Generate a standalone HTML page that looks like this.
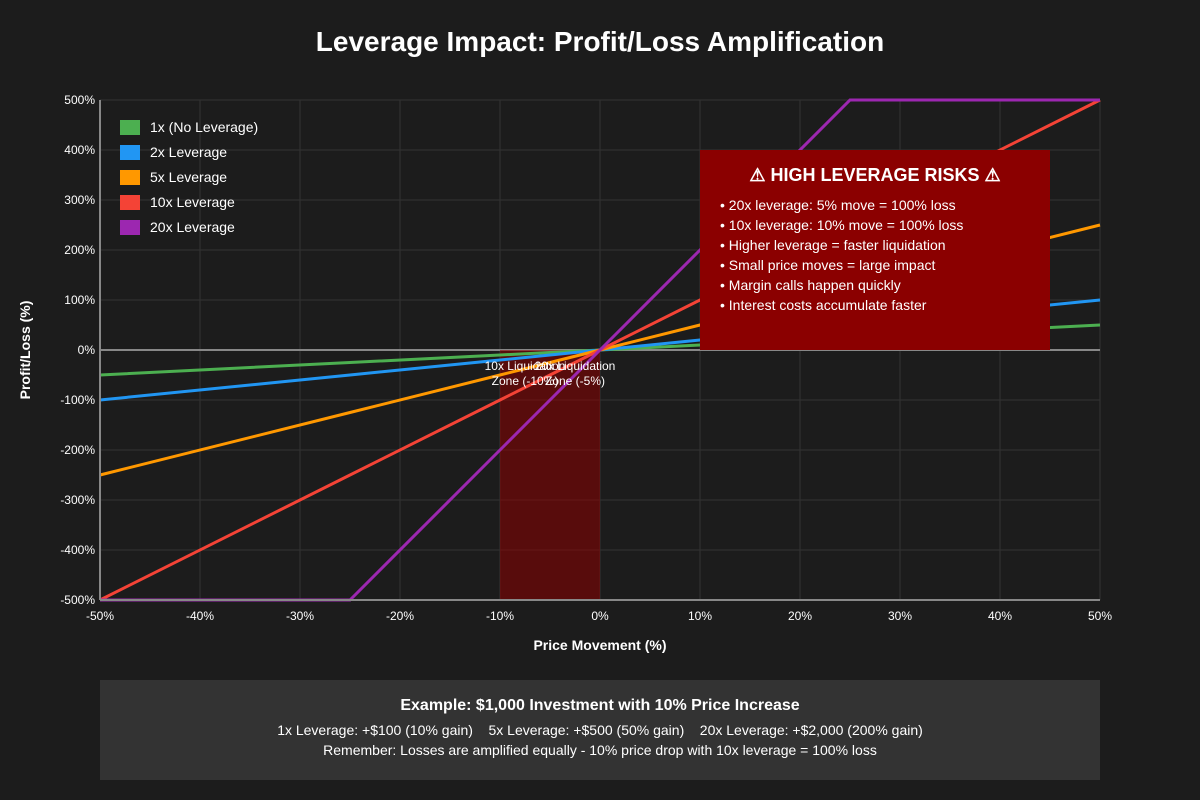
<!DOCTYPE html>
<html><head><meta charset="utf-8"><style>
html,body{margin:0;padding:0;background:#1c1c1c;font-family:"Liberation Sans",sans-serif;overflow:hidden;}
svg{display:block;}
svg text{font-family:"Liberation Sans",sans-serif;}
</style></head><body>
<svg width="1200" height="800" viewBox="0 0 1200 800">
<rect width="1200" height="800" fill="#1c1c1c"/>
<text x="600" y="51" text-anchor="middle" font-size="28" font-weight="bold" fill="#fff">Leverage Impact: Profit/Loss Amplification</text>
<g id="grid"></g>
<rect x="500" y="350" width="100" height="250" fill="#8b0000" fill-opacity="0.55"/>
<g id="lines"></g>
<g id="axes"></g>
<text x="525" y="370" text-anchor="middle" font-size="12" fill="#fff"><tspan x="525">10x Liquidation</tspan><tspan x="525" dy="15">Zone (-10%)</tspan></text>
<text x="575" y="370" text-anchor="middle" font-size="12" fill="#fff"><tspan x="575">20x Liquidation</tspan><tspan x="575" dy="15">Zone (-5%)</tspan></text>
<g id="legend"></g>
<g>
<rect x="700" y="150" width="350" height="200" fill="#8b0000"/>
<text x="875" y="181" text-anchor="middle" font-size="18" font-weight="bold" fill="#fff">⚠ HIGH LEVERAGE RISKS ⚠</text>
<g font-size="14" fill="#fff">
<text x="720" y="210">• 20x leverage: 5% move = 100% loss</text>
<text x="720" y="230">• 10x leverage: 10% move = 100% loss</text>
<text x="720" y="250">• Higher leverage = faster liquidation</text>
<text x="720" y="270">• Small price moves = large impact</text>
<text x="720" y="290">• Margin calls happen quickly</text>
<text x="720" y="310">• Interest costs accumulate faster</text>
</g></g>
<text x="600" y="650" text-anchor="middle" font-size="14" font-weight="bold" fill="#fff">Price Movement (%)</text>
<text x="30" y="350" text-anchor="middle" font-size="14" font-weight="bold" fill="#fff" transform="rotate(-90 30 350)">Profit/Loss (%)</text>
<g>
<rect x="100" y="680" width="1000" height="100" fill="#333"/>
<text x="600" y="710" text-anchor="middle" font-size="16" font-weight="bold" fill="#fff">Example: $1,000 Investment with 10% Price Increase</text>
<text x="600" y="735" text-anchor="middle" font-size="14" fill="#fff" xml:space="preserve">1x Leverage: +$100 (10% gain)    5x Leverage: +$500 (50% gain)    20x Leverage: +$2,000 (200% gain)</text>
<text x="600" y="755" text-anchor="middle" font-size="14" fill="#fff">Remember: Losses are amplified equally - 10% price drop with 10x leverage = 100% loss</text>
</g>
</svg>
<script>
const priceMoves=[-50,-25,-10,-5,0,10,25,50];
const pl1x=[-50,-25,-10,-5,0,10,25,50];
const pl2x=[-100,-50,-20,-10,0,20,50,100];
const pl5x=[-250,-125,-50,-25,0,50,125,250];
const pl10x=[-500,-250,-100,-50,0,100,250,500];
const pl20x=[-500,-500,-200,-100,0,200,500,500];
const xTicks=[-50,-40,-30,-20,-10,0,10,20,30,40,50];
const yTicks=[-500,-400,-300,-200,-100,0,100,200,300,400,500];
const seriesNames=["1x (No Leverage)","2x Leverage","5x Leverage","10x Leverage","20x Leverage"];
const colors=["#4caf50","#2196f3","#ff9800","#f44336","#9c27b0"];
const NS="http://www.w3.org/2000/svg";
const sx=v=>100+(v+50)*10, sy=v=>350-v*0.5;
function mk(t,a,p){const e=document.createElementNS(NS,t);for(const k in a)e.setAttribute(k,a[k]);p.appendChild(e);return e;}
const grid=document.getElementById('grid'),axes=document.getElementById('axes');
xTicks.forEach(t=>{
 const l=mk('line',{x1:sx(t),x2:sx(t),y1:100,y2:600,stroke:'#333','stroke-width':1},grid);
 
 
 const tx=mk('text',{x:sx(t),y:620,'text-anchor':'middle','font-size':12,fill:'#fff'},axes);
 tx.textContent=t+'%';
 
 
});
yTicks.forEach(t=>{
 const l=mk('line',{x1:100,x2:1100,y1:sy(t),y2:sy(t),stroke:t===0?'#888':'#333','stroke-width':t===0?2:1},grid);
 
 
 const tx=mk('text',{x:95,y:sy(t)+4,'text-anchor':'end','font-size':12,fill:'#fff'},axes);
 tx.textContent=t+'%';
 
 
});
const a1=mk('line',{x1:100,x2:100,y1:100,y2:600,stroke:'#888','stroke-width':2},axes);


const a2=mk('line',{x1:100,x2:1100,y1:600,y2:600,stroke:'#888','stroke-width':2},axes);


const lines=document.getElementById('lines');
[pl1x,pl2x,pl5x,pl10x,pl20x].forEach((s,i)=>{
 const pts=priceMoves.map((p,j)=>sx(p)+','+sy(s[j])).join(' ');
 const pl=mk('polyline',{points:pts,fill:'none',stroke:colors[i],'stroke-width':3},lines);
 
 
});
const lg=document.getElementById('legend');
seriesNames.forEach((n,i)=>{
 const g=mk('g',{},lg);
 
 
 mk('rect',{x:120,y:120+i*25,width:20,height:15,fill:colors[i]},g);
 const t=mk('text',{x:150,y:132+i*25,'font-size':14,fill:'#fff'},g);
 t.textContent=n;
});
</script>
</body></html>
